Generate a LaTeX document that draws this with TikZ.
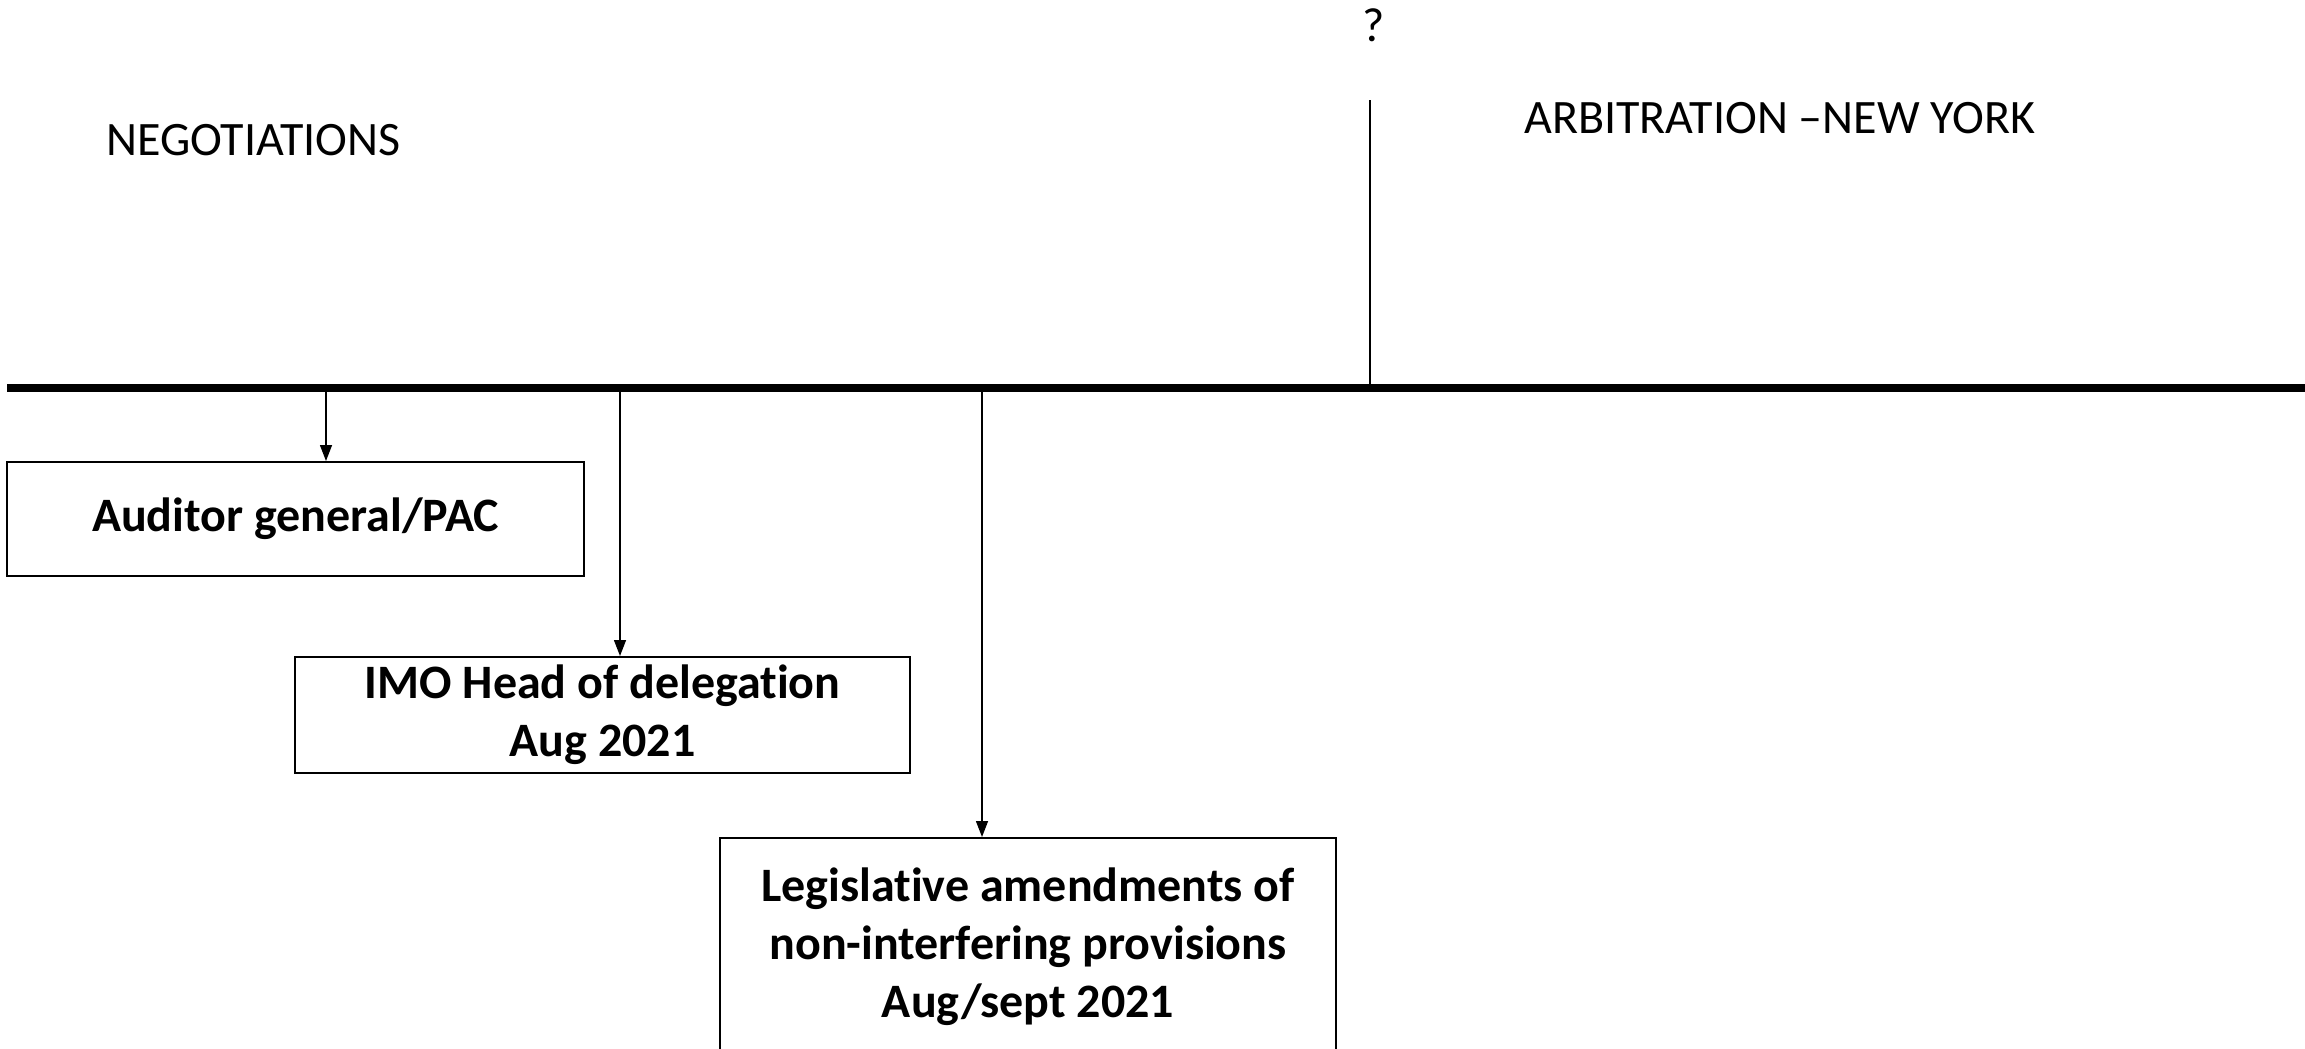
\documentclass[tikz,border=0pt]{standalone}
\usepackage{fontspec}
\setmainfont[Ligatures=NoCommon]{Carlito}
\usetikzlibrary{arrows.meta}
\begin{document}
\begin{tikzpicture}[x=1pt,y=-1pt,
  boxnode/.style={draw=black,line width=2pt,align=center,inner sep=0pt,
    font=\fontsize{48}{58}\selectfont\bfseries},
  label/.style={font=\fontsize{48}{58}\selectfont,inner sep=0pt},
  conn/.style={line width=1.4pt,-{Triangle[length=16pt,width=12pt]}}]
\useasboundingbox (0,0) rectangle (2305,1049);
% timeline
\coordinate (tl) at (7,388);
\coordinate (tr) at (2305,388);
\draw[line width=8pt] (tl) -- (tr);
% divider
\coordinate (dtop) at (1370,100);
\coordinate (dbot) at (1370,388);
\draw[line width=1.4pt] (dtop) -- (dbot);
\node[label] (q) at (1374,25) {?};
\node[label,anchor=west] (neg) at (106,140) {NEGOTIATIONS};
\node[label,anchor=west] (arb) at (1524,118) {ARBITRATION –NEW YORK};
% boxes
\node[boxnode,minimum width=577pt,minimum height=114pt] (b1) at (295.5,519) {Auditor general/PAC};
\node[boxnode,minimum width=615pt,minimum height=116pt] (b2) at (602.5,715) {IMO Head of delegation\\Aug 2021};
\node[boxnode,minimum width=616pt,minimum height=218pt] (b3) at (1028,947) {Legislative amendments of\\non-interfering provisions\\Aug/sept 2021};
% connectors
\coordinate (t1) at (326,392);
\coordinate (t2) at (620,392);
\coordinate (t3) at (982,392);
\draw[conn] (t1) -- (t1 |- b1.north);
\draw[conn] (t2) -- (t2 |- b2.north);
\draw[conn] (t3) -- (t3 |- b3.north);
\end{tikzpicture}
\end{document}
